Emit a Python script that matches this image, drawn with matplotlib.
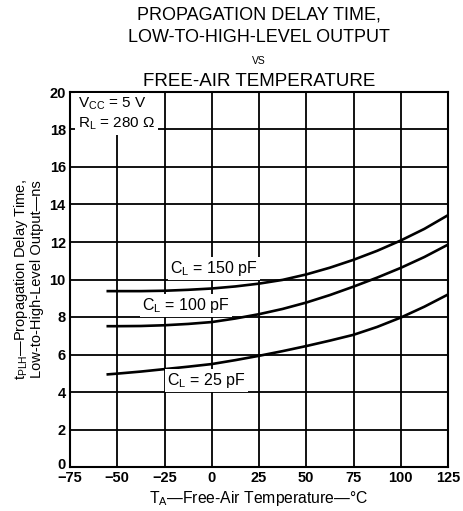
import matplotlib
matplotlib.use("Agg")
import matplotlib.pyplot as plt
from matplotlib.transforms import ScaledTranslation

plt.rcParams['font.family'] = ['Liberation Sans', 'DejaVu Sans']
plt.rcParams['mathtext.fontset'] = 'custom'
plt.rcParams['mathtext.rm'] = 'Liberation Sans'

# data -------------------------------------------------------------
temp = [-55, -50, -37.5, -25, -12.5, 0, 12.5, 25, 37.5, 50, 62.5, 75, 87.5, 100, 112.5, 125]
cl_150 = [9.38, 9.38, 9.38, 9.40, 9.45, 9.52, 9.63, 9.78, 9.98, 10.27, 10.63, 11.05, 11.53, 12.08, 12.70, 13.43]
cl_100 = [7.51, 7.51, 7.52, 7.56, 7.63, 7.73, 7.92, 8.15, 8.43, 8.77, 9.17, 9.62, 10.10, 10.62, 11.20, 11.86]
cl_25 = [4.94, 4.98, 5.09, 5.22, 5.35, 5.49, 5.70, 5.93, 6.18, 6.45, 6.74, 7.05, 7.47, 7.97, 8.55, 9.20]

x_ticks = [-75, -50, -25, 0, 25, 50, 75, 100, 125]
y_ticks = [0, 2, 4, 6, 8, 10, 12, 14, 16, 18, 20]

curve_labels = ['$\\mathregular{C_L}$ = 150 pF', '$\\mathregular{C_L}$ = 100 pF', '$\\mathregular{C_L}$ = 25 pF']
label_pos = [(-22, 10.6), (-37, 8.6), (-23.5, 4.6)]

# figure -------------------------------------------------------------
fig = plt.figure(figsize=(4.63, 5.11), dpi=100)
ax = fig.add_axes([70 / 463, 44 / 511, 378 / 463, 375 / 511])

ax.set_xlim(-75, 125)
ax.set_ylim(0, 20)
ax.set_xticks(x_ticks)
ax.set_yticks(y_ticks)
ax.set_xticklabels([str(t).replace('-', '\u2212') for t in x_ticks])
ax.tick_params(length=0, labelsize=10.5, pad=3)
for lab in ax.get_xticklabels() + ax.get_yticklabels():
    lab.set_fontweight('bold')
# lift the y "0" a little so it clears the "-75" below it
ylabs = ax.get_yticklabels()
ylabs[0].set_transform(ylabs[0].get_transform() + ScaledTranslation(0, 4 / 100, fig.dpi_scale_trans))

ax.grid(True, color='black', linewidth=1.3)
ax.set_axisbelow(True)
for s in ax.spines.values():
    s.set_linewidth(1.5)

for y in (cl_150, cl_100, cl_25):
    ax.plot(temp, y, color='black', linewidth=1.9, zorder=3)

for txt, (x, y) in zip(curve_labels, label_pos):
    ax.text(x, y, txt, fontsize=11.5, ha='left', va='center', zorder=4,
            bbox=dict(facecolor='white', edgecolor='none', pad=1.5))

ax.text(-71, 19.35, '$\\mathregular{V_{CC}}$ = 5 V', fontsize=11, ha='left', va='center', zorder=4,
        bbox=dict(facecolor='white', edgecolor='none', pad=2))
ax.text(-71, 18.3, '$\\mathregular{R_L}$ = 280 \u03a9', fontsize=11, ha='left', va='center', zorder=4,
        bbox=dict(facecolor='white', edgecolor='none', pad=2))

ax.set_xlabel('$\\mathregular{T_A}$\u2014Free-Air Temperature\u2014\u00b0C', fontsize=11.3, labelpad=3)
ax.set_ylabel('$\\mathregular{t_{PLH}}$\u2014Propagation Delay Time,\nLow-to-High-Level Output\u2014ns',
              fontsize=10.5, labelpad=4, linespacing=1.0)

cx = (70 + 448) / 2 / 463
fig.text(cx, 1 - 15 / 511, 'PROPAGATION DELAY TIME,', fontsize=13, ha='center', va='center')
fig.text(cx, 1 - 38 / 511, 'LOW-TO-HIGH-LEVEL OUTPUT', fontsize=13, ha='center', va='center')
fig.text(cx, 1 - 61 / 511, 'VS', fontsize=7.5, ha='center', va='center')
fig.text(cx, 1 - 81 / 511, 'FREE-AIR TEMPERATURE', fontsize=13.5, ha='center', va='center')

fig.savefig('out.png', dpi=100)
